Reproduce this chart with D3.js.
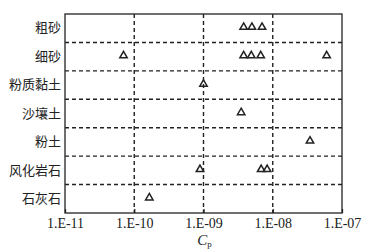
<!DOCTYPE html>
<html>
<head>
<meta charset="utf-8">
<script src="https://cdn.jsdelivr.net/npm/d3@7"></script>
<style>
  body { margin: 0; background: #fff; }
  svg { display: block; }
</style>
</head>
<body>
<div id="chart"></div>
<script>
// soil / rock types, top to bottom
const categories = ["粗砂", "细砂", "粉质黏土", "沙壤土", "粉土", "风化岩石", "石灰石"];
// Cp values, one array per category
const cpCoarseSand = [3.8e-9, 5.0e-9, 7.0e-9];
const cpFineSand = [7.0e-11, 3.8e-9, 4.9e-9, 6.7e-9, 6.0e-8];
const cpSiltyClay = [1.0e-9];
const cpSandyLoam = [3.5e-9];
const cpSilt = [3.45e-8];
const cpWeatheredRock = [8.9e-10, 6.8e-9, 8.3e-9];
const cpLimestone = [1.65e-10];
const tickValues = [1e-11, 1e-10, 1e-9, 1e-8, 1e-7];
const tickLabels = ["1.E-11", "1.E-10", "1.E-09", "1.E-08", "1.E-07"];

const seriesList = [cpCoarseSand, cpFineSand, cpSiltyClay, cpSandyLoam, cpSilt, cpWeatheredRock, cpLimestone];

let
  width = 372,
  height = 252,
  m = {top: 14, right: 30, bottom: 39, left: 65};

let svg = d3.select("#chart").append("svg")
  .attr("width", width)
  .attr("height", height);

let x = d3.scaleLog()
  .domain([1e-11, 1e-7])
  .range([m.left, width - m.right]);

let y = d3.scaleBand()
  .domain(categories)
  .range([m.top, height - m.bottom])
  .paddingInner(0).paddingOuter(0);

/* dashed grid: inner decades and row separators */
svg.append("g").selectAll("line")
  .data(tickValues.slice(1, -1))
  .enter().append("line")
  .attr("x1", d => x(d)).attr("x2", d => x(d))
  .attr("y1", m.top).attr("y2", height - m.bottom)
  .attr("stroke", "#222")
  .attr("stroke-width", 1.4)
  .attr("stroke-dasharray", "4,3");

svg.append("g").selectAll("line")
  .data(categories.slice(1))
  .enter().append("line")
  .attr("x1", m.left).attr("x2", width - m.right)
  .attr("y1", d => y(d)).attr("y2", d => y(d))
  .attr("stroke", "#222")
  .attr("stroke-width", 1.4)
  .attr("stroke-dasharray", "4,3");

/* frame */
svg.append("rect")
  .attr("x", m.left).attr("y", m.top)
  .attr("width", width - m.right - m.left)
  .attr("height", height - m.bottom - m.top)
  .attr("fill", "none")
  .attr("stroke", "#222")
  .attr("stroke-width", 1.3);

/* x axis */
let xAxis = d3.axisBottom(x)
  .tickValues(tickValues)
  .tickSize(-4)
  .tickPadding(5)
  .tickFormat((d, i) => tickLabels[i]);

let gx = svg.append("g")
  .attr("transform", "translate(0," + (height - m.bottom) + ")")
  .call(xAxis);
gx.select(".domain").remove();
gx.selectAll(".tick line").attr("stroke", "#222").attr("stroke-width", 1.3);
gx.selectAll(".tick text")
  .style("font-family", "'Liberation Serif', 'DejaVu Serif', serif")
  .style("font-size", "14px")
  .attr("fill", "#222");

/* y category labels */
let yAxis = d3.axisLeft(y).tickSize(0).tickPadding(4);
let gy = svg.append("g")
  .attr("transform", "translate(" + m.left + ",0)")
  .call(yAxis);
gy.select(".domain").remove();
gy.selectAll(".tick text")
  .style("font-family", "'Noto Sans CJK SC', sans-serif")
  .style("font-size", "13px")
  .attr("fill", "#222");

/* axis title C_p */
let title = svg.append("text")
  .attr("x", x(1e-9) + 1)
  .attr("y", 245)
  .attr("text-anchor", "middle")
  .style("font-family", "'Liberation Serif', serif")
  .attr("fill", "#222");
title.append("tspan").text("C").style("font-style", "italic").style("font-size", "15px");
title.append("tspan").text("p").style("font-size", "9px").attr("dy", 2);

/* triangle markers */
let points = [];
seriesList.forEach((vals, i) => vals.forEach(v => points.push({cat: categories[i], v: v})));

let tri = d3.symbol().type(d3.symbolTriangle).size(24);

svg.append("g").selectAll("path")
  .data(points)
  .enter().append("path")
  .attr("d", tri)
  .attr("transform", d => "translate(" + x(d.v) + "," + (y(d.cat) + y.bandwidth() / 2 - 1) + ")")
  .attr("fill", "none")
  .attr("stroke", "#222")
  .attr("stroke-width", 1.5);
</script>
</body>
</html>
